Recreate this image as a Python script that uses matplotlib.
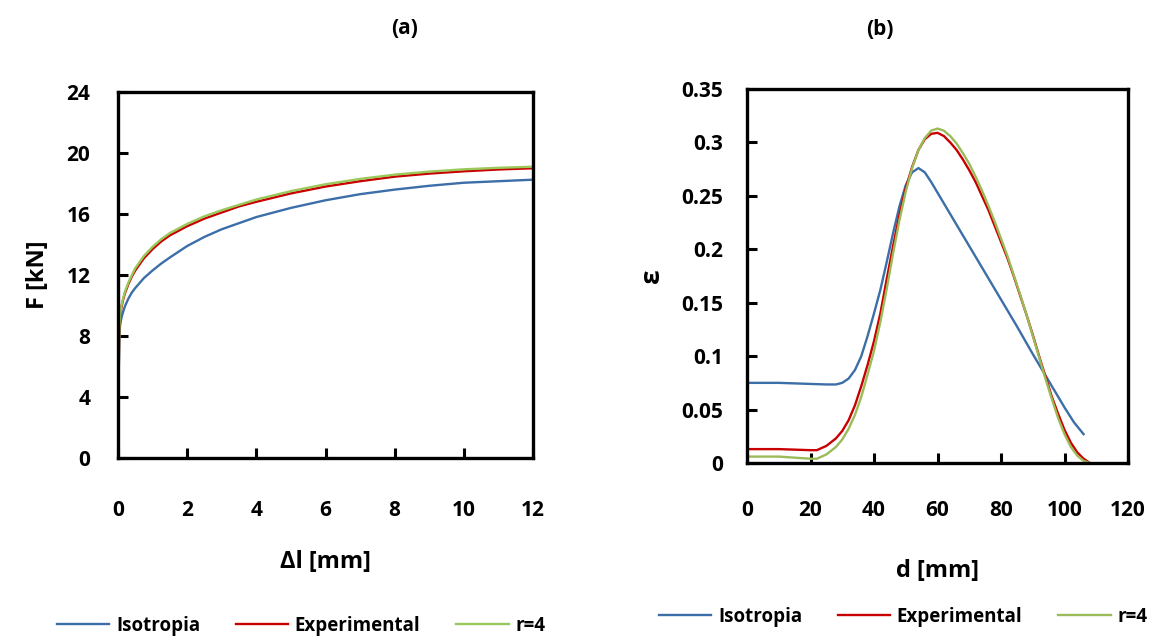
import matplotlib
matplotlib.use("Agg")
import matplotlib.pyplot as plt

plt.rcParams['font.family'] = ['Open Sans', 'DejaVu Sans']
plt.rcParams['font.weight'] = 'bold'

# ---- data (a) ----
dl_iso = [0, 0.01, 0.02, 0.03, 0.04, 0.06, 0.1, 0.15, 0.2, 0.3, 0.4, 0.5, 0.75, 1, 1.25, 1.5, 2, 2.5, 3, 3.5, 4, 5, 6, 7, 8, 9, 10, 11, 12]
F_iso = [0, 2.8, 5.2, 7.0, 8.0, 8.7, 9.2, 9.6, 9.95, 10.45, 10.85, 11.15, 11.8, 12.3, 12.75, 13.15, 13.9, 14.5, 15.0, 15.4, 15.8, 16.4, 16.9, 17.3, 17.6, 17.85, 18.05, 18.15, 18.25]
dl_exp = [0, 0.01, 0.02, 0.03, 0.04, 0.06, 0.1, 0.15, 0.2, 0.3, 0.4, 0.5, 0.75, 1, 1.25, 1.5, 2, 2.5, 3, 3.5, 4, 5, 6, 7, 8, 9, 10, 11, 12]
F_exp = [0, 2.9, 5.4, 7.4, 8.5, 9.25, 9.9, 10.4, 10.8, 11.4, 11.9, 12.3, 13.1, 13.7, 14.2, 14.6, 15.2, 15.7, 16.1, 16.5, 16.8, 17.35, 17.8, 18.15, 18.45, 18.65, 18.8, 18.92, 19.0]
dl_r4 = [0, 0.01, 0.02, 0.03, 0.04, 0.06, 0.1, 0.15, 0.2, 0.3, 0.4, 0.5, 0.75, 1, 1.25, 1.5, 2, 2.5, 3, 3.5, 4, 5, 6, 7, 8, 9, 10, 11, 12]
F_r4 = [0, 2.9, 5.4, 7.5, 8.6, 9.35, 10.0, 10.5, 10.9, 11.5, 12.0, 12.45, 13.25, 13.85, 14.35, 14.75, 15.35, 15.85, 16.25, 16.6, 16.95, 17.5, 17.95, 18.3, 18.58, 18.78, 18.93, 19.03, 19.1]

# ---- data (b) ----
d_iso = [0, 5, 10, 15, 20, 25, 28, 30, 32, 34, 36, 38, 40, 42, 44, 46, 48, 50, 52, 54, 56, 58, 60,
         65, 70, 75, 80, 85, 90, 95, 100, 103, 106]
e_iso = [.075, .075, .075, .0745, .074, .0735, .0735, .075, .079, .087, .100, .119, .140, .162, .188, .215,
         .240, .260, .272, .276, .272, .263, .253, .228, .203, .178, .153, .128, .102, .077, .052, .038, .027]
d_exp = [0, 10, 20, 22, 25, 28, 30, 32, 34, 36, 38, 40, 42, 44, 46, 48, 50, 52, 54, 56, 58, 60, 62, 64, 66,
         68, 70, 72, 74, 76, 78, 80, 82, 84, 86, 88, 90, 92, 94, 96, 98, 100, 102, 104, 106, 108]
e_exp = [.013, .013, .012, .012, .016, .023, .030, .040, .054, .072, .092, .114, .140, .172, .203, .232,
         .257, .277, .293, .303, .308, .309, .306, .300, .293, .284, .274, .263, .250, .237, .222, .207,
         .192, .175, .157, .139, .120, .100, .081, .062, .046, .031, .019, .010, .004, .0]
d_r4 = [0, 10, 20, 22, 25, 28, 30, 32, 34, 36, 38, 40, 42, 44, 46, 48, 50, 52, 54, 56, 58, 60, 62, 64, 66,
        68, 70, 72, 74, 76, 78, 80, 82, 84, 86, 88, 90, 92, 94, 96, 98, 100, 102, 104, 106, 108]
e_r4 = [.006, .006, .004, .004, .008, .015, .022, .032, .045, .062, .083, .105, .132, .163, .196, .227,
        .254, .276, .293, .304, .311, .313, .311, .306, .299, .290, .280, .268, .255, .241, .226, .210,
        .194, .176, .158, .139, .119, .099, .079, .060, .042, .027, .015, .007, .002, .0]

labels = ['Isotropia', 'Experimental', 'r=4']
colors = ['#3C6EA8', '#C80000', '#9BC85A']

a_xticks = [0, 2, 4, 6, 8, 10, 12]
a_yticks = [0, 4, 8, 12, 16, 20, 24]
b_xticks = [0, 20, 40, 60, 80, 100, 120]
b_yticks = [0, 0.05, 0.1, 0.15, 0.2, 0.25, 0.3, 0.35]
b_yticklabels = ['0', '0.05', '0.1', '0.15', '0.2', '0.25', '0.3', '0.35']

fig = plt.figure(figsize=(11.59, 6.37), dpi=100)
axA = fig.add_axes([118/1159, 1-458/637, 415/1159, 366/637])
axB = fig.add_axes([747/1159, 1-463/637, 381/1159, 374/637])


def style(ax, ypad, xpad):
    for s in ax.spines.values():
        s.set_linewidth(2.4)
        s.set_color('black')
    ax.tick_params(direction='in', length=7, width=2.2, labelsize=15)
    ax.tick_params(axis='y', pad=ypad)
    ax.tick_params(axis='x', pad=xpad)
    for lab in ax.get_xticklabels() + ax.get_yticklabels():
        lab.set_fontweight('bold')


legprops = dict(loc='center', ncol=3, frameon=False, prop={'weight': 'bold', 'size': 13.5},
                handlelength=2.8, columnspacing=1.9, handletextpad=0.35)

lw = 1.7
axA.plot(dl_iso, F_iso, color=colors[0], lw=lw, label=labels[0])
axA.plot(dl_exp, F_exp, color=colors[1], lw=lw, label=labels[1])
axA.plot(dl_r4, F_r4, color=colors[2], lw=lw, label=labels[2])
axA.set_xlim(0, 12)
axA.set_ylim(0, 24)
axA.set_xticks(a_xticks)
axA.set_yticks(a_yticks)
style(axA, 20, 30)
axA.set_xlabel('Δl [mm]', fontsize=17, fontweight='bold', labelpad=21)
axA.set_ylabel('F [kN]', fontsize=17, fontweight='bold', labelpad=12)
axA.set_title('(a)', fontsize=15, fontweight='bold', pad=42, x=(405-118)/415)
axA.legend(bbox_to_anchor=((301-118)/415, -(626-458)/366), **legprops)

axB.plot(d_iso, e_iso, color=colors[0], lw=lw, label=labels[0])
axB.plot(d_exp, e_exp, color=colors[1], lw=lw, label=labels[1])
axB.plot(d_r4, e_r4, color='#9BBB59', lw=lw, label=labels[2])
axB.set_xlim(0, 120)
axB.set_ylim(0, 0.35)
axB.set_xticks(b_xticks)
axB.set_yticks(b_yticks)
axB.set_yticklabels(b_yticklabels)
style(axB, 17, 27)
axB.set_xlabel('d [mm]', fontsize=17, fontweight='bold', labelpad=27)
axB.set_ylabel('ε', fontsize=19, fontweight='bold', labelpad=12, rotation=90)
axB.set_title('(b)', fontsize=15, fontweight='bold', pad=39, x=(880-747)/381)
axB.legend(bbox_to_anchor=((903-747)/381, -(617-463)/374), **legprops)

fig.savefig('out.png', dpi=100)
